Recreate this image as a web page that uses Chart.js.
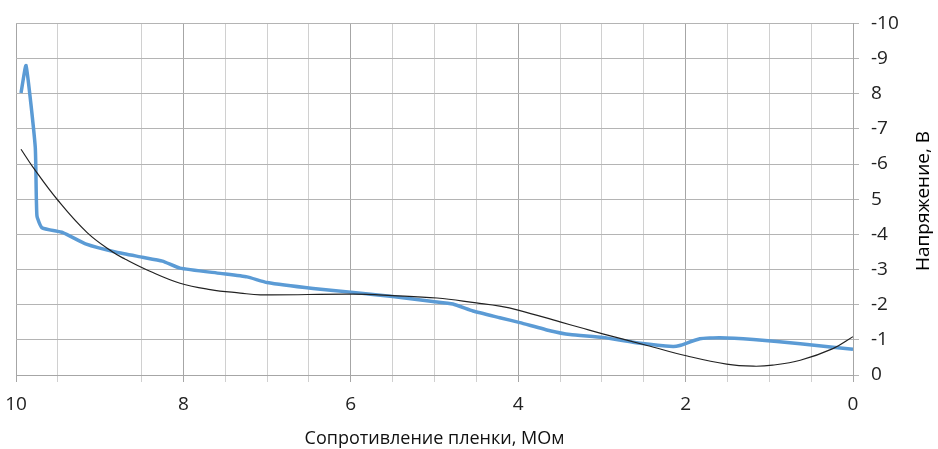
<!DOCTYPE html>
<html>
<head>
<meta charset="utf-8">
<script src="https://cdn.jsdelivr.net/npm/chart.js@4"></script>
<style>
  html, body { margin: 0; padding: 0; background: #fff; }
  #wrap { width: 938px; height: 449px; }
</style>
</head>
<body>
<div id="wrap"><canvas id="voltChart" width="938" height="449"></canvas></div>
<script>
// Data
const MEASURED_X = [9.94, 9.88, 9.77, 9.75, 9.69, 9.44, 9.16, 8.80, 8.49, 8.25, 8.04, 7.56, 7.24, 7.00, 6.45, 5.97, 5.50, 5.02, 4.78, 4.54, 4.22, 3.98, 3.62, 3.38, 2.99, 2.54, 2.15, 2.07, 1.83, 1.59, 1.19, 0.63, 0.24, 0.00];
const MEASURED_Y = [8.02, 8.80, 6.48, 4.53, 4.19, 4.05, 3.72, 3.49, 3.35, 3.24, 3.04, 2.89, 2.79, 2.63, 2.46, 2.35, 2.23, 2.09, 2.02, 1.82, 1.63, 1.49, 1.26, 1.15, 1.07, 0.90, 0.81, 0.84, 1.03, 1.06, 1.01, 0.89, 0.79, 0.73];

const TREND_X = [9.94, 9.80, 9.50, 9.15, 8.84, 8.70, 8.40, 8.04, 7.68, 7.32, 7.08, 5.98, 5.50, 4.97, 4.50, 4.22, 3.99, 3.50, 3.26, 2.99, 2.46, 1.98, 1.51, 1.19, 0.96, 0.63, 0.24, 0.00];
const TREND_Y = [6.42, 5.92, 4.97, 4.05, 3.49, 3.30, 2.95, 2.61, 2.43, 2.33, 2.28, 2.30, 2.26, 2.19, 2.05, 1.96, 1.84, 1.51, 1.35, 1.17, 0.84, 0.54, 0.31, 0.25, 0.28, 0.42, 0.75, 1.09];

const X_LABELS = { 10: '10', 8: '8', 6: '6', 4: '4', 2: '2', 0: '0' };
const Y_TICK_LABELS = ['0', '-1', '-2', '-3', '-4', '5', '-6', '-7', '8', '-9', '-10'];

const X_TITLE = 'Сопротивление пленки, МОм';
const Y_TITLE = 'Напряжение, В';

const FONT = "'Open Sans', 'DejaVu Sans', sans-serif";

const toPoints = (xs, ys) => xs.map((x, i) => ({ x: x, y: ys[i] }));

// right axis title reads bottom-to-top, so draw it by hand
const rightTitle = {
  id: 'rightTitle',
  afterDraw(chart) {
    const c = chart.ctx;
    c.save();
    c.translate(924, 201);
    c.rotate(-Math.PI / 2);
    c.font = '19px ' + FONT;
    c.fillStyle = '#000';
    c.textAlign = 'center';
    c.textBaseline = 'middle';
    c.fillText(Y_TITLE, 0, 0);
    c.restore();
  }
};

new Chart(document.getElementById('voltChart').getContext('2d'), {
  type: 'line',
  data: {
    datasets: [
      {
        label: 'trend',
        data: toPoints(TREND_X, TREND_Y),
        borderColor: '#222',
        borderWidth: 1.2,
        pointRadius: 0,
        tension: 0.4,
        fill: false
      },
      {
        label: 'measured',
        data: toPoints(MEASURED_X, MEASURED_Y),
        borderColor: '#5b9bd5',
        borderWidth: 3.5,
        pointRadius: 0,
        tension: 0.15,
        fill: false
      }
    ]
  },
  options: {
    responsive: false,
    animation: false,
    layout: { padding: { left: 16, top: 17, right: 0, bottom: 0 } },
    plugins: {
      legend: { display: false },
      tooltip: { enabled: false }
    },
    scales: {
      x: {
        type: 'linear',
        reverse: true,
        min: 0,
        max: 10,
        afterFit: (s) => { s.height = 74; },
        afterBuildTicks: (s) => {
          const t = [];
          for (let v = 0; v <= 10; v += 0.5) t.push({ value: v });
          s.ticks = t;
        },
        ticks: {
          autoSkip: false,
          maxRotation: 0,
          padding: 11,
          color: '#222',
          font: { family: FONT, size: 19 },
          callback: (v) => (X_LABELS[v] !== undefined ? X_LABELS[v] : '')
        },
        grid: {
          tickLength: 7,
          lineWidth: 1,
          color: (ctx) => {
            const v = ctx.tick ? ctx.tick.value : 0;
            if (v === 9) return 'rgba(0,0,0,0)';
            return v % 2 === 0 ? '#a6a6a6' : '#d0d0d0';
          }
        },
        border: { color: '#a6a6a6', width: 1 },
        title: {
          display: true,
          text: X_TITLE,
          color: '#111',
          font: { family: FONT, size: 18 },
          padding: { top: 0, bottom: -1 }
        }
      },
      y: {
        position: 'right',
        min: 0,
        max: 10,
        afterFit: (s) => { s.width = 85; },
        ticks: {
          stepSize: 1,
          padding: 12,
          color: '#222',
          font: { family: FONT, size: 19 },
          callback: (v) => Y_TICK_LABELS[v]
        },
        grid: {
          tickLength: 6,
          color: '#b4b4b4',
          lineWidth: 1
        },
        border: { color: '#a6a6a6', width: 1 }
      }
    }
  },
  plugins: [rightTitle]
});
</script>
</body>
</html>
